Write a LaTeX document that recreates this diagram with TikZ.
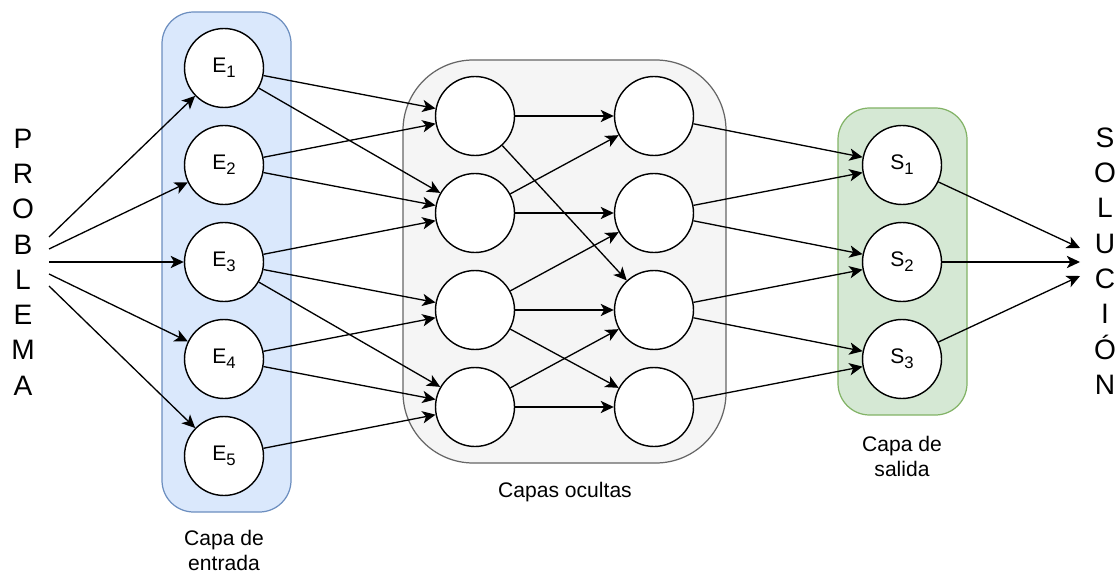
\documentclass[tikz,border=0pt]{standalone}
\usepackage{fontspec}
\setmainfont{Liberation Sans}
\usetikzlibrary{arrows.meta}

\definecolor{entradafill}{HTML}{DAE8FC}
\definecolor{entradaline}{HTML}{6C8EBF}
\definecolor{ocultafill}{HTML}{F5F5F5}
\definecolor{ocultaline}{HTML}{666666}
\definecolor{salidafill}{HTML}{D5E8D4}
\definecolor{salidaline}{HTML}{82B366}

\newcommand{\subidx}[1]{\raisebox{-0.45ex}{\fontsize{9.5}{10}\selectfont #1}}

\begin{document}
\begin{tikzpicture}[x=0.02cm,y=-0.02cm,
		neuron/.style={draw,circle,fill=white,line width=0.8pt,minimum size=1.58cm,inner sep=0pt,font=\fontsize{12}{14}\selectfont},
		conn/.style={-{Stealth[length=7.5pt,width=7pt,inset=2pt]},line width=0.75pt},
		caption/.style={align=center,font=\fontsize{12}{14.2}\selectfont},
		vertical/.style={align=center,font=\fontsize{16}{20.1}\selectfont,inner sep=0pt}]
		\useasboundingbox (0,0) rectangle (1118,574);

		% Capas (fondos)
		\draw[line width=0.7pt,draw=entradaline,fill=entradafill,rounded corners=18] (162,12) rectangle (291,512);
		\draw[line width=0.7pt,draw=ocultaline,fill=ocultafill,rounded corners=40] (403,60) rectangle (726,463);
		\draw[line width=0.7pt,draw=salidaline,fill=salidafill,rounded corners=18] (838,108) rectangle (967,415);

		% Entrada y salida del problema
		\node[vertical] (Problema) at (23,262) {P\\R\\O\\B\\L\\E\\M\\A};
		\node[vertical] (Solucion) at (1105,261) {S\\O\\L\\U\\C\\I\\Ó\\N};
		\coordinate (p1) at (49,237);
		\coordinate (p2) at (49,249);
		\coordinate (p3) at (49,262);
		\coordinate (p4) at (49,274);
		\coordinate (p5) at (49,286);
		\coordinate (s1) at (1080,248);
		\coordinate (s2) at (1080,262);
		\coordinate (s3) at (1080,276);

		% Capa de entrada
		\node[neuron] (E1) at (224,68) {E\subidx{1}};
		\node[neuron] (E2) at (224,165) {E\subidx{2}};
		\node[neuron] (E3) at (224,262) {E\subidx{3}};
		\node[neuron] (E4) at (224,359) {E\subidx{4}};
		\node[neuron] (E5) at (224,456) {E\subidx{5}};

		% Capas ocultas
		\node[neuron] (H1) at (475,116) {};
		\node[neuron] (H2) at (475,213) {};
		\node[neuron] (H3) at (475,310) {};
		\node[neuron] (H4) at (475,407) {};
		\node[neuron] (G1) at (654,116) {};
		\node[neuron] (G2) at (654,213) {};
		\node[neuron] (G3) at (654,310) {};
		\node[neuron] (G4) at (654,407) {};

		% Capa de salida
		\node[neuron] (S1) at (902,165) {S\subidx{1}};
		\node[neuron] (S2) at (902,262) {S\subidx{2}};
		\node[neuron] (S3) at (902,359) {S\subidx{3}};

		% Conexiones
		\foreach \i in {1,...,5}
			\draw[conn] (p\i) to (E\i);
		\foreach \a/\b in {E1/H1,E1/H2,E2/H1,E2/H2,E3/H2,E3/H3,E3/H4,E4/H3,E4/H4,E5/H4,
				H1/G1,H1/G3,H2/G1,H2/G2,H3/G2,H3/G3,H3/G4,H4/G3,H4/G4,
				G1/S1,G2/S1,G2/S2,G3/S2,G3/S3,G4/S3}
			\draw[conn] (\a) to (\b);
		\foreach \i in {1,2,3}
			\draw[conn] (S\i) to (s\i);

		% Rotulos
		\node[caption] (Entrada) at (224,550) {Capa de\\entrada};
		\node[caption] (Ocultas) at (565,492) {Capas ocultas};
		\node[caption] (Salida) at (902,456) {Capa de\\salida};
\end{tikzpicture}
\end{document}
